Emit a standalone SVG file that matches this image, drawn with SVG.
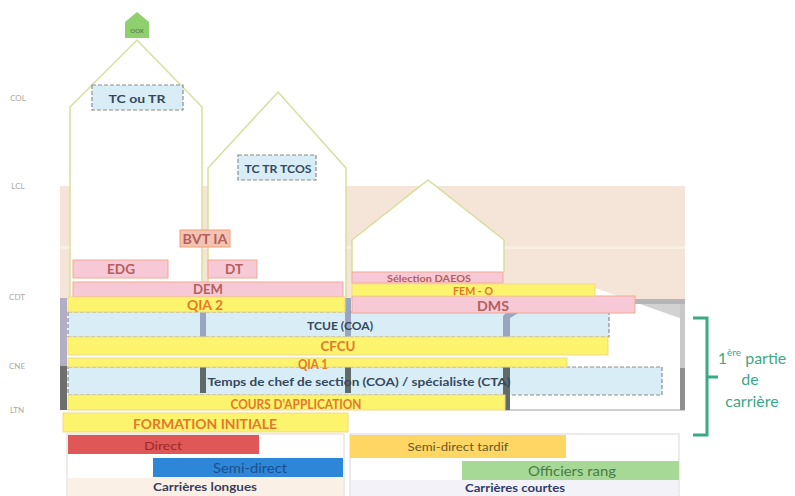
<svg xmlns="http://www.w3.org/2000/svg" width="795" height="496" viewBox="0 0 795 496">
<style>
text{font-family:Lato,"Open Sans","Liberation Sans",sans-serif;text-anchor:middle;dominant-baseline:central}
.house{fill:#ffffff;stroke:#d6df9a;stroke-width:1.5}
.by{fill:#fcf46c;stroke:#efd98c;stroke-width:1}
.bp{fill:#f7c8d6;stroke:#f2aa90;stroke-width:1}
.bs{fill:#f5c3b4;stroke:#f0a070;stroke-width:1}
.bb{fill:#d9edf7;stroke:#8c8c8c;stroke-width:1.2;stroke-dasharray:4 2}
.tor{fill:#e5782a;font-weight:bold}
.trd{fill:#b3605a;font-weight:bold}
.tdk{fill:#34495e;font-weight:bold}
.lvl{fill:#a8a8a8;font-size:8px}
.gu{fill:#9aa6bf}
.gd{fill:#5f6a6a}
.leg{fill:#ffffff;stroke:#d8d8d8;stroke-width:1}
.tg{fill:#3aaa85;font-size:16px}
</style>

<!-- background band -->
<g id="background">
  <rect x="60" y="186" width="625" height="114" fill="#f4e5d8"/>
  <rect x="60" y="246" width="625" height="3" fill="#f8eee4"/>
</g>

<!-- level labels -->
<g id="levels">
  <text class="lvl" x="18" y="98">COL</text>
  <text class="lvl" x="18" y="186">LCL</text>
  <text class="lvl" x="17" y="297">CDT</text>
  <text class="lvl" x="17" y="366">CNE</text>
  <text class="lvl" x="17" y="410">LTN</text>
</g>

<!-- houses -->
<g id="house1"><path class="house" d="M70,300 V107 L137,40 L202,107 V300"/></g>
<g id="house2"><path class="house" d="M208,300 V168 L278,92 L346,168 V300"/></g>
<g id="house3"><path class="house" d="M352,272 V240 L428,180 L504,240 V272"/></g>
<g id="oox">
  <polygon points="125,38 125,22 137,12 149,22 149,38" fill="#8fd06e"/>
  <text x="137" y="30" font-size="6" fill="#4a6a4a">OOX</text>
</g>

<!-- lower building -->
<g id="lower-building">
  <polygon points="590,286 685,320 685,410 505,410 505,300" fill="#ffffff"/>
  <rect x="635" y="299" width="50" height="5" fill="#b5b5b5"/>
  <polygon points="640,304 685,304 685,320" fill="#d2d2d2"/>
  <rect x="505" y="409" width="180" height="2" fill="#cfcfcf"/>
</g>

<!-- dashed blue boxes -->
<g id="tc-ou-tr"><rect class="bb" x="92" y="85" width="91" height="25"/><text class="tdk" x="137" y="98" font-size="12" textLength="57" lengthAdjust="spacingAndGlyphs">TC ou TR</text></g>
<g id="tc-tr-tcos"><rect class="bb" x="238" y="155" width="78" height="25"/><text class="tdk" x="278" y="168" font-size="12" textLength="67" lengthAdjust="spacingAndGlyphs">TC TR TCOS</text></g>
<g id="tcue"><rect class="bb" x="68" y="312" width="541" height="25"/></g>
<g id="temps-chef"><rect class="bb" x="68" y="367" width="594" height="28"/></g>

<!-- structural bars -->
<g id="pillars">
  <rect x="60" y="298" width="7" height="68" fill="#b3aec4"/>
  <rect x="60" y="366" width="7" height="44" fill="#6e6e6e"/>
  <rect x="200" y="312" width="6" height="43" class="gu"/>
  <rect x="200" y="367" width="6" height="26" class="gd"/>
  <rect x="345" y="298" width="6" height="57" class="gu"/>
  <rect x="345" y="367" width="6" height="26" class="gd"/>
  <polygon points="503,316 507,312 520,312 510,318 510,355 503,355" class="gu"/>
  <rect x="503" y="367" width="7" height="43" class="gd"/>
  <rect x="680" y="304" width="5" height="64" fill="#c9c9c9"/>
  <rect x="680" y="368" width="5" height="42" fill="#8f8f8f"/>
</g>

<!-- pink / salmon boxes -->
<g id="bvt-ia"><rect class="bs" x="180" y="230" width="50" height="17"/><text class="trd" x="205" y="238.5" font-size="13" textLength="45" lengthAdjust="spacingAndGlyphs">BVT IA</text></g>
<g id="edg"><rect class="bp" x="73" y="260" width="95" height="18"/><text class="trd" x="121" y="269" font-size="13" textLength="28" lengthAdjust="spacingAndGlyphs">EDG</text></g>
<g id="dt"><rect class="bp" x="208" y="260" width="49" height="18"/><text class="trd" x="234" y="269" font-size="13" textLength="18" lengthAdjust="spacingAndGlyphs">DT</text></g>
<g id="dem"><rect class="bp" x="73" y="282" width="270" height="15"/><text class="trd" x="208" y="289" font-size="13" textLength="30" lengthAdjust="spacingAndGlyphs">DEM</text></g>
<g id="selection-daeos"><rect class="bp" x="352" y="272" width="151" height="11"/><text class="trd" x="429" y="278" font-size="10" textLength="84" lengthAdjust="spacingAndGlyphs">Sélection DAEOS</text></g>
<g id="dms"><rect class="bp" x="352" y="296" width="283" height="17"/><text class="trd" x="493" y="305" font-size="14" textLength="32" lengthAdjust="spacingAndGlyphs">DMS</text></g>

<!-- yellow bars -->
<g id="fem-o"><rect class="by" x="352" y="284" width="243" height="12"/><text class="tor" x="473" y="290" font-size="11" textLength="40" lengthAdjust="spacingAndGlyphs">FEM - O</text></g>
<g id="qia2"><rect class="by" x="68" y="297" width="277" height="15"/><text class="tor" x="205" y="305" font-size="13" textLength="36" lengthAdjust="spacingAndGlyphs">QIA 2</text></g>
<g id="cfcu"><rect class="by" x="68" y="337" width="540" height="18"/><text class="tor" x="338" y="346" font-size="13" textLength="35" lengthAdjust="spacingAndGlyphs">CFCU</text></g>
<g id="qia1"><rect class="by" x="68" y="358" width="499" height="9"/></g>
<g id="cours-application"><rect class="by" x="68" y="395" width="437" height="15"/><text class="tor" x="296" y="403" font-size="14" textLength="131" lengthAdjust="spacingAndGlyphs">COURS D'APPLICATION</text></g>
<g id="formation-initiale"><rect class="by" x="63" y="413" width="285" height="19"/><text class="tor" x="205" y="423" font-size="14" textLength="144" lengthAdjust="spacingAndGlyphs">FORMATION INITIALE</text></g>

<!-- labels over boxes -->
<g id="labels">
  <text class="tdk" x="340" y="325" font-size="11.5" textLength="66" lengthAdjust="spacingAndGlyphs">TCUE (COA)</text>
  <text class="tor" x="313" y="364" font-size="13" textLength="30" lengthAdjust="spacingAndGlyphs">QIA 1</text>
  <text class="tdk" x="359" y="381" font-size="11.5" textLength="303" lengthAdjust="spacingAndGlyphs">Temps de chef de section (COA) / spécialiste (CTA)</text>
</g>

<!-- legend: long careers -->
<g id="legend-longues">
  <rect class="leg" x="67" y="434" width="277" height="62"/>
  <rect x="68" y="478" width="275" height="18" fill="#fbf0e6"/>
  <rect x="68" y="435" width="191" height="19" fill="#e05757"/>
  <text x="163" y="445" font-size="12" fill="#9c2b2b" textLength="38" lengthAdjust="spacingAndGlyphs">Direct</text>
  <rect x="153" y="458" width="190" height="19" fill="#2e86d9"/>
  <text x="250" y="468" font-size="13" fill="#1c4f8a" textLength="74" lengthAdjust="spacingAndGlyphs">Semi-direct</text>
  <text x="205" y="486" font-size="11" font-weight="bold" fill="#3c3c5c" textLength="104" lengthAdjust="spacingAndGlyphs">Carrières longues</text>
</g>

<!-- legend: short careers -->
<g id="legend-courtes">
  <rect class="leg" x="350" y="434" width="329" height="62"/>
  <rect x="351" y="480" width="327" height="16" fill="#f3f2f8"/>
  <rect x="350" y="435" width="216" height="23" fill="#fdd663"/>
  <text x="458" y="446" font-size="12" fill="#6b5a2a" textLength="101" lengthAdjust="spacingAndGlyphs">Semi-direct tardif</text>
  <rect x="462" y="461" width="217" height="19" fill="#a6d896"/>
  <text x="572" y="470" font-size="14" fill="#4a7a45" textLength="88" lengthAdjust="spacingAndGlyphs">Officiers rang</text>
  <text x="515" y="487" font-size="11" font-weight="bold" fill="#2f3c6a" textLength="100" lengthAdjust="spacingAndGlyphs">Carrières courtes</text>
</g>

<!-- bracket -->
<g id="connectors">
  <path d="M693,318 H707 V435 H693 M707,377 H718" fill="none" stroke="#3aaa85" stroke-width="3"/>
</g>
<g id="premiere-partie">
  <text class="tg" x="752" y="357">1<tspan font-size="10" dy="-5">ère</tspan><tspan dy="5"> partie</tspan></text>
  <text class="tg" x="750" y="378">de</text>
  <text class="tg" x="752" y="400">carrière</text>
</g>
</svg>
